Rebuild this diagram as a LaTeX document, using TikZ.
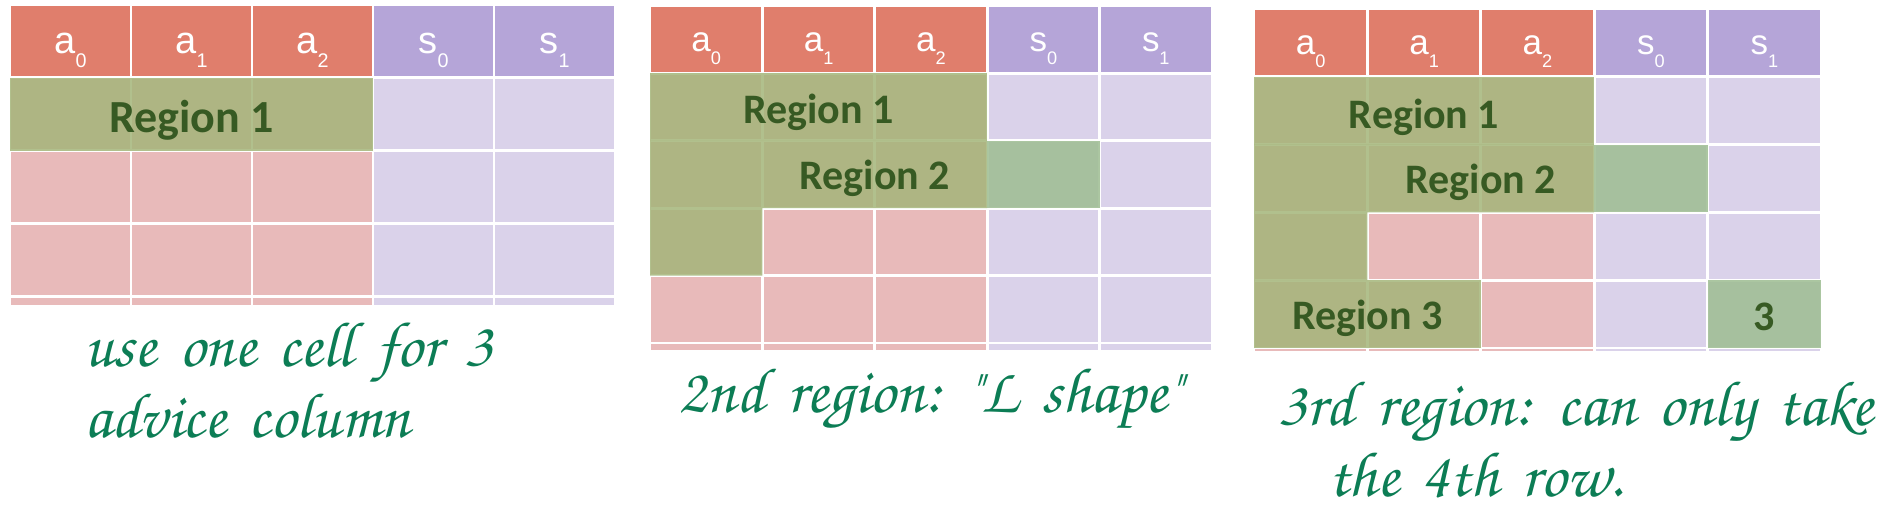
\documentclass[tikz,border=0pt]{standalone}
\usepackage{fontspec}
\usepackage{graphicx}
\setmainfont{Liberation Sans}
\newfontfamily\regionfont{Carlito}
\usetikzlibrary{positioning}
\definecolor{hdrA}{HTML}{E07E6C}
\definecolor{hdrS}{HTML}{B5A5D8}
\definecolor{cellA}{HTML}{E8BABA}
\definecolor{cellS}{HTML}{DAD2EA}
\definecolor{regOlive}{HTML}{A4B57A}
\definecolor{regTeal}{HTML}{9DBD91}
\definecolor{regText}{HTML}{375A23}
\definecolor{noteGreen}{HTML}{0C7D55}
\newcommand\notefont{\fontencoding{T1}\fontfamily{pzc}\fontseries{mb}\fontshape{it}\fontsize{32}{35.5}\selectfont\spaceskip=0.36em}
% header text with a dropped index
\newcommand\hd[2]{#1\raisebox{-0.37em}{\scalebox{0.52}{#2}}}
\tikzset{
  cell/.style={draw=white, line width=1.4pt},
  acell/.style={cell, fill=cellA},
  scell/.style={cell, fill=cellS},
  ahead/.style={cell, fill=hdrA},
  shead/.style={cell, fill=hdrS},
  region/.style={fill=regOlive, fill opacity=0.85},
  extra/.style={fill=regTeal, fill opacity=0.85},
  hdrlabel/.style={text=white, anchor=base, inner sep=0pt},
  reglabel/.style={text=regText, anchor=base, inner sep=0pt},
  note/.style={text=noteGreen, anchor=base west, inner sep=0pt, align=left, font=\notefont},
}
% #1 name prefix, #2 body rows, #3 height of the cut last row
\newcommand\drawtable[3]{%
  \foreach \c in {0,1,2} {
    \draw[ahead] (\c,0) rectangle ++(1,1);
    \foreach \r in {1,...,#2} \draw[acell] (\c,\r) rectangle ++(1,1);
    \draw[acell] (\c,#2+1) rectangle ++(1,#3);
  }
  \foreach \c in {3,4} {
    \draw[shead] (\c,0) rectangle ++(1,1);
    \foreach \r in {1,...,#2} \draw[scell] (\c,\r) rectangle ++(1,1);
    \draw[scell] (\c,#2+1) rectangle ++(1,#3);
  }
  \foreach \c/\nm/\ix in {0/a/0,1/a/1,2/a/2,3/s/0,4/s/1}
    \node[hdrlabel] (#1h\c) at (\c+0.5,0.67) {\hd{\nm}{\ix}};
}

\begin{document}
\begin{tikzpicture}[x=0.5pt, y=-0.5pt]
  \useasboundingbox (0,0) rectangle (1886,512);

  % table 1
  \begin{scope}[shift={(10,5)}, x=60.5pt, y=-36.4pt,
      hdrlabel/.append style={font=\fontsize{19}{19}\selectfont},
      reglabel/.append style={font=\regionfont\bfseries\fontsize{23}{23}\selectfont}]
    \drawtable{ta}{3}{0.14}
    \fill[region] (0,1) rectangle (3,2);
    \node[reglabel] (taR1) at (1.5,1.75) {Region 1};
  \end{scope}

  % table 2
  \begin{scope}[shift={(650,6)}, x=56.2pt, y=-33.7pt,
      hdrlabel/.append style={font=\fontsize{17.5}{17.5}\selectfont},
      reglabel/.append style={font=\regionfont\bfseries\fontsize{21}{21}\selectfont}]
    \drawtable{tb}{4}{0.13}
    \fill[region] (0,1) rectangle (3,2);
    \fill[region] (0,2) -- (3,2) -- (3,3) -- (1,3) -- (1,4) -- (0,4) -- cycle;
    \fill[extra] (3,2) rectangle (4,3);
    \node[reglabel] (tbR1) at (1.5,1.74) {Region 1};
    \node[reglabel] (tbR2) at (2,2.72) {Region 2};
  \end{scope}

  % table 3
  \begin{scope}[shift={(1254,9)}, x=56.7pt, y=-33.9pt,
      hdrlabel/.append style={font=\fontsize{17.5}{17.5}\selectfont},
      reglabel/.append style={font=\regionfont\bfseries\fontsize{21}{21}\selectfont}]
    \drawtable{tc}{4}{0.07}
    \fill[region] (0,1) rectangle (3,2);
    \fill[region] (0,2) -- (3,2) -- (3,3) -- (1,3) -- (1,4) -- (0,4) -- cycle;
    \fill[extra] (3,2) rectangle (4,3);
    \fill[region] (0,4) rectangle (2,5);
    \fill[extra] (4,4) rectangle (5,5);
    \node[reglabel] (tcR1) at (1.5,1.76) {Region 1};
    \node[reglabel] (tcR2) at (2,2.72) {Region 2};
    \node[reglabel] (tcR3) at (1,4.72) {Region 3};
    \node[reglabel] (tcR3b) at (4.5,4.74) {3};
  \end{scope}

  % notes under the tables (base = last line)
  \node[note] (note1) at (84,438) {use one cell for 3\\advice column};
  \node[note] (note2) at (678,413) {2nd region: "L shape"};
  \node[note] (note3) at (1278,497) {3rd region: can only take\\\hspace*{25pt}the 4th row.};
\end{tikzpicture}
\end{document}
